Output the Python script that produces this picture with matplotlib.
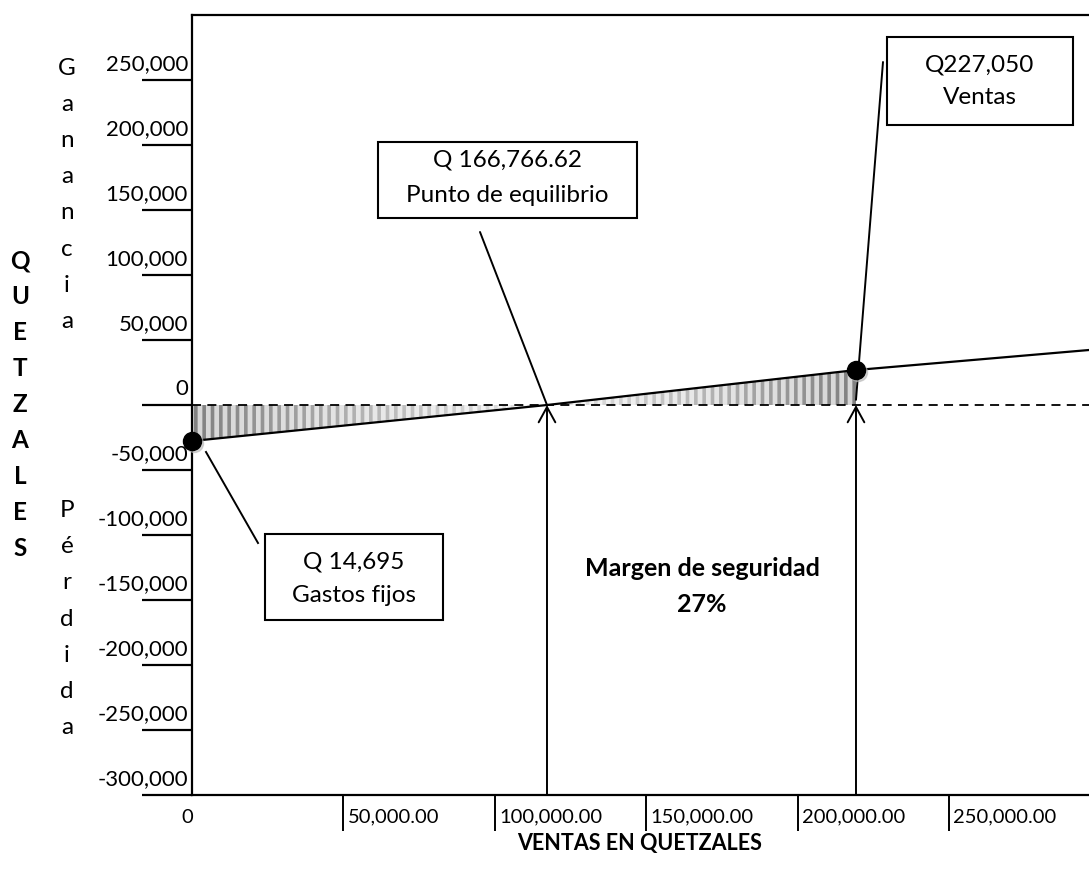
import numpy as np
import matplotlib.pyplot as plt
from matplotlib.patches import Rectangle, Polygon
from matplotlib.transforms import ScaledTranslation

plt.rcParams['font.family'] = ['Lato', 'DejaVu Sans']

# punto de partida, punto de equilibrio, ventas, fin de la recta
ventas_x = [0, 117160, 219140, 296040]
utilidad_y = [-27700, 0, 26900, 42300]
equilibrio_x = 117160
ventas_actual_x = 219140

y_ticks = [-300000, -250000, -200000, -150000, -100000, -50000,
           0, 50000, 100000, 150000, 200000, 250000]
y_labels = ['{:,}'.format(v) for v in y_ticks]
x_ticks = [0, 50000, 100000, 150000, 200000, 250000]
x_labels = ['0', '50,000.00', '100,000.00', '150,000.00', '200,000.00', '250,000.00']

W, H = 1089, 880
FS_Y = 16
FS_X = 14.5
FS_BOX = 17.5
FS_LET = 17.5


def px(x, y):
    # pixel position of the reference -> figure fraction
    return x / W, 1 - y / H


fig = plt.figure(figsize=(W / 100, H / 100), dpi=100)
ax = fig.add_axes([192 / W, (H - 795) / H, (W - 192) / W, 780 / H])
ax.set_xlim(0, 296040)
ax.set_ylim(-300000, 300000)

for s in ['top', 'left', 'bottom']:
    ax.spines[s].set_linewidth(1.6)
ax.spines['right'].set_visible(False)

ax.set_yticks(y_ticks)
ax.set_xticks(x_ticks[1:])
ax.tick_params(axis='y', length=36, width=1.6, direction='out', labelleft=False)
ax.tick_params(axis='x', length=26, width=1.4, direction='out', labelbottom=False)

for v, lab in zip(y_ticks, y_labels):
    ax.annotate(lab, xy=(0, v), xycoords=ax.get_yaxis_transform(),
                xytext=(-4, 16), textcoords='offset pixels',
                ha='right', va='center', fontsize=FS_Y)
for v, lab in zip(x_ticks, x_labels):
    if v == 0:
        ax.annotate(lab, xy=(v, 0), xycoords=ax.get_xaxis_transform(),
                    xytext=(-5, -22), textcoords='offset pixels',
                    ha='center', va='center', fontsize=FS_X)
    else:
        ax.annotate(lab, xy=(v, 0), xycoords=ax.get_xaxis_transform(),
                    xytext=(4, -22), textcoords='offset pixels',
                    ha='left', va='center', fontsize=FS_X)

# zona sombreada (perdida y ganancia)
plt.rcParams['hatch.linewidth'] = 2.6
loss_x = ventas_x[:2]
loss_y = utilidad_y[:2]
gain_x = ventas_x[1:3]
gain_y = utilidad_y[1:3]
ax.fill_between(loss_x, loss_y, 0, facecolor='#d4d4d4', edgecolor='#7a7a7a',
                hatch='||', linewidth=0, zorder=1)
ax.fill_between(gain_x, gain_y, 0, facecolor='#d4d4d4', edgecolor='#7a7a7a',
                hatch='||', linewidth=0, zorder=1)

# degradado blanco hacia el punto de equilibrio
for (xa, xb, ya, yb, rev) in [(loss_x[0], loss_x[1], loss_y[0], loss_y[1], False),
                              (gain_x[0], gain_x[1], gain_y[0], gain_y[1], True)]:
    g = np.linspace(0.05, 0.85, 256)
    if rev:
        g = g[::-1]
    img = np.ones((2, 256, 4))
    img[:, :, 3] = g
    lo, hi = min(ya, yb, 0), max(ya, yb, 0)
    im = ax.imshow(img, extent=[xa, xb, lo, hi], aspect='auto', zorder=1.5,
                   interpolation='bilinear')
    poly = Polygon([[xa, ya], [xb, yb], [xb, 0], [xa, 0]], closed=True,
                   transform=ax.transData, facecolor='none', edgecolor='none')
    ax.add_patch(poly)
    im.set_clip_path(poly)

ax.set_xlim(0, 296040)
ax.set_ylim(-300000, 300000)

ax.axhline(0, color='black', linestyle=(0, (5, 3.5)), linewidth=1.3, zorder=2)
ax.plot(ventas_x, utilidad_y, color='black', linewidth=1.6, zorder=3)

# puntos
shadow = ax.transData + ScaledTranslation(2 / 100, -2 / 100, fig.dpi_scale_trans)
for xv, yv in [(ventas_x[0], utilidad_y[0]), (ventas_actual_x, utilidad_y[2])]:
    ax.plot([xv], [yv], 'o', color='#b8b8b8', markersize=13, alpha=0.6,
            zorder=3.5, clip_on=False, transform=shadow)
    ax.plot([xv], [yv], 'o', color='black', markersize=13, zorder=4, clip_on=False)

# flechas verticales
for xv in [equilibrio_x, ventas_actual_x]:
    ax.annotate('', xy=(xv, 0), xytext=(xv, -300000),
                arrowprops=dict(arrowstyle='->,head_length=0.55,head_width=0.3',
                                lw=1.4, color='black', shrinkA=0, shrinkB=0,
                                mutation_scale=20), zorder=5)

# recuadros
boxes = [
    ((378, 142, 637, 218), ['Q 166,766.62', 'Punto de equilibrio'], (160, 196)),
    ((887, 37, 1073, 125), ['Q227,050', 'Ventas'], (65, 98)),
    ((265, 534, 443, 620), ['Q 14,695', 'Gastos fijos'], (562, 595)),
]
for (x0, y0, x1, y1), lines, ys in boxes:
    fig.patches.append(Rectangle(px(x0, y1), (x1 - x0) / W, (y1 - y0) / H,
                                 transform=fig.transFigure, facecolor='white',
                                 edgecolor='black', linewidth=1.5, zorder=6))
    for txt, yl in zip(lines, ys):
        fig.text(*px((x0 + x1) / 2, yl), txt, ha='center', va='center',
                 fontsize=FS_BOX, zorder=7)

# lineas guia de los recuadros
ax.annotate('', xy=(equilibrio_x, 0), xycoords='data', xytext=px(480, 232),
            textcoords='figure fraction',
            arrowprops=dict(arrowstyle='-', lw=1.4, color='black', shrinkA=0, shrinkB=0))
ax.annotate('', xy=(ventas_actual_x, 4000), xycoords='data', xytext=px(883, 62),
            textcoords='figure fraction',
            arrowprops=dict(arrowstyle='-', lw=1.4, color='black', shrinkA=0, shrinkB=0))
fig.add_artist(plt.Line2D([206 / W, 258 / W], [1 - 452 / H, 1 - 543 / H],
                          color='black', linewidth=1.4, transform=fig.transFigure))

fig.text(*px(702, 568), 'Margen de seguridad', ha='center', va='center',
         fontsize=18, fontweight='bold')
fig.text(*px(702, 605), '27%', ha='center', va='center',
         fontsize=18, fontweight='bold')

fig.text(*px(640, 843), 'VENTAS EN QUETZALES', ha='center', va='center',
         fontsize=15.5, fontweight='bold')

# letras verticales
for i, ch in enumerate('QUETZALES'):
    fig.text(*px(20, 268 + 36 * i), ch, ha='center', va='baseline',
             fontsize=FS_LET, fontweight='bold')
for i, ch in enumerate('Ganancia'):
    fig.text(*px(67, 75 + 36.1 * i), ch, ha='center', va='baseline', fontsize=FS_LET)
for i, ch in enumerate('Pérdida'):
    fig.text(*px(67, 517 + 36.2 * i), ch, ha='center', va='baseline', fontsize=FS_LET)

fig.savefig('out.png', dpi=100)
